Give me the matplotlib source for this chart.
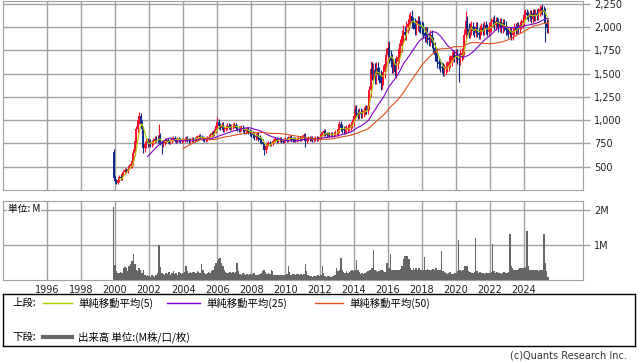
import numpy as np
import pandas as pd
import matplotlib
matplotlib.use("Agg")
import matplotlib.pyplot as plt

# monthly closes (Dec 1999 .. Jun 2025)
close_1999 = [380]
close_2000 = [345, 330, 360, 395, 380, 420, 440, 470, 455, 480, 510, 530]
close_2001 = [560, 650, 780, 900, 1000, 1040, 960, 900, 700, 740, 770, 750]
close_2002 = [770, 740, 760, 780, 800, 790, 780, 840, 760, 740, 760, 780]
close_2003 = [790, 770, 760, 780, 800, 810, 790, 780, 800, 790, 780, 790]
close_2004 = [790, 800, 810, 790, 780, 790, 800, 790, 800, 810, 820, 830]
close_2005 = [820, 810, 800, 790, 800, 810, 820, 840, 860, 850, 880, 940]
close_2006 = [980, 940, 920, 950, 900, 910, 920, 940, 930, 920, 930, 940]
close_2007 = [950, 920, 910, 900, 910, 920, 900, 880, 890, 900, 880, 860]
close_2008 = [850, 840, 820, 830, 840, 810, 790, 770, 740, 680, 720, 740]
close_2009 = [760, 740, 750, 780, 790, 800, 780, 790, 800, 780, 770, 790]
close_2010 = [800, 790, 810, 820, 800, 790, 800, 790, 800, 810, 800, 810]
close_2011 = [820, 840, 780, 800, 810, 800, 810, 790, 800, 810, 800, 810]
close_2012 = [820, 850, 860, 880, 850, 840, 850, 840, 850, 840, 850, 870]
close_2013 = [870, 900, 960, 920, 900, 890, 900, 910, 920, 930, 950, 980]
close_2014 = [1050, 1120, 1080, 1060, 1090, 1070, 1080, 1100, 1120, 1110, 1150, 1320]
close_2015 = [1550, 1500, 1540, 1460, 1560, 1500, 1470, 1400, 1450, 1520, 1600, 1700]
close_2016 = [1780, 1680, 1640, 1580, 1600, 1520, 1620, 1680, 1760, 1800, 1900, 1950]
close_2017 = [1920, 2000, 2030, 2080, 2120, 2050, 2040, 1980, 2020, 2060, 2010, 2000]
close_2018 = [1990, 1940, 1900, 1940, 1880, 1860, 1910, 1830, 1780, 1700, 1720, 1620]
close_2019 = [1600, 1570, 1560, 1530, 1550, 1570, 1580, 1630, 1640, 1690, 1700, 1680]
close_2020 = [1700, 1660, 1650, 1700, 1720, 1760, 1920, 2060, 1980, 1940, 1980, 2000]
close_2021 = [1960, 1940, 2000, 1940, 1920, 1970, 1990, 1960, 2020, 1980, 1950, 2000]
close_2022 = [2000, 2050, 2080, 2020, 2060, 2050, 2000, 2050, 1990, 2040, 2010, 1970]
close_2023 = [1960, 1930, 1960, 1910, 1960, 2000, 1970, 2010, 1980, 2020, 2040, 2060]
close_2024 = [2130, 2150, 2130, 2110, 2140, 2090, 2150, 2110, 2150, 2120, 2160, 2190]
close_2025 = [2200, 2180, 2160, 2040, 1990, 2040]
first_open = 660

# typical wick length per year (how far high/low stick out of the body)
wick_pad = {1999: 20, 2000: 20, 2001: 40, 2002: 25, 2003: 20, 2004: 20, 2005: 20,
            2006: 30, 2007: 25, 2008: 30, 2009: 20, 2010: 20, 2011: 20, 2012: 25,
            2013: 35, 2014: 45, 2015: 70, 2016: 70, 2017: 60, 2018: 60, 2019: 55,
            2020: 60, 2021: 50, 2022: 50, 2023: 45, 2024: 45, 2025: 50}

# wicks that stick out further
wick_high = {(1999, 12): 690, (2001, 6): 1090, (2002, 8): 960, (2006, 1): 1030,
             (2007, 1): 980, (2014, 2): 1160, (2015, 1): 1640, (2016, 1): 1840,
             (2017, 5): 2160, (2020, 8): 2170, (2022, 3): 2110, (2024, 1): 2180,
             (2025, 1): 2230}
wick_low = {(2000, 2): 310, (2001, 9): 650, (2002, 10): 640, (2008, 10): 625,
            (2011, 3): 710, (2015, 8): 1320, (2016, 6): 1470, (2019, 6): 1500,
            (2020, 3): 1410, (2025, 4): 1840}

# monthly volume, millions
vol_1999 = [2.09]
vol_2000 = [0.44, 0.25, 0.2, 0.2, 0.22, 0.2, 0.34, 0.36, 0.35, 0.25, 0.41, 0.45]
vol_2001 = [0.55, 0.74, 0.45, 0.3, 0.25, 0.35, 0.28, 0.2, 0.3, 0.15, 0.12, 0.13]
vol_2002 = [0.12, 0.1, 0.14, 0.12, 0.1, 0.15, 0.2, 1.0, 0.37, 0.2, 0.18, 0.15]
vol_2003 = [0.2, 0.18, 0.22, 0.15, 0.2, 0.25, 0.18, 0.2, 0.15, 0.22, 0.2, 0.18]
vol_2004 = [0.2, 0.22, 0.41, 0.25, 0.2, 0.22, 0.2, 0.24, 0.22, 0.2, 0.25, 0.22]
vol_2005 = [0.2, 0.47, 0.3, 0.2, 0.18, 0.2, 0.22, 0.2, 0.25, 0.3, 0.4, 0.5]
vol_2006 = [0.55, 0.6, 0.63, 0.5, 0.4, 0.3, 0.22, 0.2, 0.2, 0.22, 0.2, 0.22]
vol_2007 = [0.2, 0.22, 0.5, 0.25, 0.18, 0.15, 0.2, 0.18, 0.15, 0.17, 0.15, 0.16]
vol_2008 = [0.15, 0.17, 0.2, 0.15, 0.14, 0.15, 0.18, 0.2, 0.27, 0.3, 0.22, 0.18]
vol_2009 = [0.2, 0.18, 0.3, 0.25, 0.15, 0.14, 0.13, 0.14, 0.15, 0.13, 0.14, 0.15]
vol_2010 = [0.15, 0.18, 0.4, 0.22, 0.15, 0.17, 0.16, 0.15, 0.18, 0.17, 0.15, 0.16]
vol_2011 = [0.15, 0.17, 0.47, 0.25, 0.13, 0.12, 0.12, 0.1, 0.12, 0.11, 0.12, 0.13]
vol_2012 = [0.12, 0.13, 0.4, 0.2, 0.12, 0.1, 0.12, 0.11, 0.1, 0.12, 0.11, 0.13]
vol_2013 = [0.35, 0.25, 0.3, 0.63, 0.3, 0.22, 0.2, 0.25, 0.2, 0.22, 0.25, 0.28]
vol_2014 = [0.25, 0.3, 0.57, 0.3, 0.22, 0.18, 0.2, 0.18, 0.2, 0.22, 0.25, 0.3]
vol_2015 = [0.3, 0.35, 0.86, 0.3, 0.25, 0.22, 0.25, 0.3, 0.28, 0.25, 0.22, 0.5]
vol_2016 = [0.5, 0.35, 0.75, 0.3, 0.3, 0.3, 0.28, 0.3, 0.3, 0.32, 0.4, 0.6]
vol_2017 = [0.7, 0.7, 0.7, 0.6, 0.35, 0.3, 0.35, 0.3, 0.35, 0.3, 0.35, 0.3]
vol_2018 = [0.3, 0.3, 0.65, 0.3, 0.32, 0.3, 0.28, 0.3, 0.32, 0.3, 0.35, 0.3]
vol_2019 = [0.3, 0.28, 0.83, 0.25, 0.22, 0.2, 0.18, 0.2, 0.22, 0.17, 0.18, 0.2]
vol_2020 = [0.2, 0.25, 1.14, 0.3, 0.25, 0.3, 0.4, 0.4, 0.4, 0.25, 0.22, 0.2]
vol_2021 = [0.2, 0.22, 1.2, 0.25, 0.2, 0.22, 0.2, 0.2, 0.18, 0.2, 0.2, 0.2]
vol_2022 = [0.2, 0.22, 1.03, 0.25, 0.2, 0.22, 0.2, 0.2, 0.18, 0.2, 0.22, 0.2]
vol_2023 = [0.2, 0.22, 1.32, 0.4, 0.35, 0.3, 0.3, 0.3, 0.32, 0.35, 0.35, 0.35]
vol_2024 = [0.35, 0.36, 1.41, 0.4, 0.3, 0.3, 0.28, 0.3, 0.3, 0.28, 0.25, 0.3]
vol_2025 = [0.3, 0.3, 1.32, 0.5, 0.25, 0.1]

price_ticks = [500, 750, 1000, 1250, 1500, 1750, 2000, 2250]
year_ticks = list(range(1996, 2025, 2))
vol_ticks = [1, 2]
vol_labels = ["1M", "2M"]
legend_labels = ["単純移動平均(5)", "単純移動平均(25)", "単純移動平均(50)"]
ma_windows = [5, 25, 50]
ma_colors = ["#b4c800", "#8000cc", "#e0501e"]

closes = (close_1999 + close_2000 + close_2001 + close_2002 + close_2003 + close_2004
          + close_2005 + close_2006 + close_2007 + close_2008 + close_2009 + close_2010
          + close_2011 + close_2012 + close_2013 + close_2014 + close_2015 + close_2016
          + close_2017 + close_2018 + close_2019 + close_2020 + close_2021 + close_2022
          + close_2023 + close_2024 + close_2025)
vols = (vol_1999 + vol_2000 + vol_2001 + vol_2002 + vol_2003 + vol_2004 + vol_2005
        + vol_2006 + vol_2007 + vol_2008 + vol_2009 + vol_2010 + vol_2011 + vol_2012
        + vol_2013 + vol_2014 + vol_2015 + vol_2016 + vol_2017 + vol_2018 + vol_2019
        + vol_2020 + vol_2021 + vol_2022 + vol_2023 + vol_2024 + vol_2025)

dates = pd.date_range("1999-12-01", periods=len(closes), freq="MS")
df = pd.DataFrame({"close": closes, "vol": vols}, index=dates)
df["open"] = df["close"].shift(1)
df.iloc[0, df.columns.get_loc("open")] = first_open
pad = df.index.year.map(wick_pad).values
df["high"] = df[["open", "close"]].max(axis=1) + pad
df["low"] = df[["open", "close"]].min(axis=1) - pad
for (y, m), v in wick_high.items():
    df.loc[pd.Timestamp(y, m, 1), "high"] = v
for (y, m), v in wick_low.items():
    df.loc[pd.Timestamp(y, m, 1), "low"] = v
df["x"] = df.index.year + (df.index.month - 1) / 12.0

fig = plt.figure(figsize=(6.38, 3.62), dpi=100)


def px_axes(l, t, r, b):
    return fig.add_axes([l / 638, 1 - b / 362, (r - l) / 638, (b - t) / 362])


grid_c = "#a0a0a0"
xlim = (1993.43, 2027.46)

ax1 = px_axes(3, 1, 583, 190)
ax2 = px_axes(3, 201, 583, 280)

for ax in (ax1, ax2):
    ax.set_xlim(*xlim)
    ax.set_xticks(year_ticks)
    ax.grid(True, color=grid_c, lw=1.0)
    ax.set_axisbelow(True)
    for s in ax.spines.values():
        s.set_color(grid_c)
    ax.yaxis.tick_right()
    ax.tick_params(axis="y", colors=grid_c, labelcolor="#222222", length=5,
                   width=1, labelsize=7, pad=3)
    ax.tick_params(axis="x", length=0, labelsize=7, labelcolor="#222222")

# candles
up = df["close"] >= df["open"]
for mask, col in ((up, "#f5102c"), (~up, "#0c2a88")):
    d = df[mask]
    ax1.vlines(d["x"], d["low"], d["high"], color=col, lw=0.8)
    ax1.vlines(d["x"], d[["open", "close"]].min(axis=1),
               d[["open", "close"]].max(axis=1), color=col, lw=1.4)

for w, c in zip(ma_windows, ma_colors):
    ax1.plot(df["x"], df["close"].rolling(w).mean(), color=c, lw=0.8)

ax1.set_ylim(250, 2280)
ax1.set_yticks(price_ticks)
ax1.set_yticklabels([f"{v:,}" for v in price_ticks])
ax1.tick_params(axis="x", labelbottom=False)

ax2.bar(df["x"], df["vol"], width=1 / 12, color="#666666", lw=0)
ax2.set_ylim(0, 2.26)
ax2.set_yticks(vol_ticks)
ax2.set_yticklabels(vol_labels)
ax2.text(0.008, 0.9, "単位: M", transform=ax2.transAxes, fontsize=7,
         family=["Noto Sans CJK JP", "DejaVu Sans"], va="center", ha="left",
         bbox=dict(facecolor="white", edgecolor="none", pad=0.5))

# legend box
axl = px_axes(3, 294, 635, 346)
axl.set_xlim(3, 635)
axl.set_ylim(346, 294)
axl.set_xticks([])
axl.set_yticks([])
for s in axl.spines.values():
    s.set_color("black")
    s.set_linewidth(1)
jp = ["Noto Sans CJK JP", "DejaVu Sans"]
axl.text(12, 303, "上段:", fontsize=7.5, family=jp, va="center")
axl.text(12, 337, "下段:", fontsize=7.5, family=jp, va="center")
line_x = [(43, 72), (167, 200), (315, 343)]
text_x = [78, 206, 349]
for (x0, x1), tx, c, lab in zip(line_x, text_x, ma_colors, legend_labels):
    axl.plot([x0, x1], [303, 303], color=c, lw=1.0)
    axl.text(tx, 303, lab, fontsize=7.5, family=jp, va="center")
axl.plot([43, 72], [337, 337], color="#666666", lw=3)
axl.text(78, 337, "出来高 単位:(M株/口/枚)", fontsize=7.5, family=jp, va="center")

fig.text(627 / 638, 1 - 356 / 362, "(c)Quants Research Inc.", fontsize=7,
         ha="right", va="center", color="#333333")

fig.savefig("out.png", dpi=100)
